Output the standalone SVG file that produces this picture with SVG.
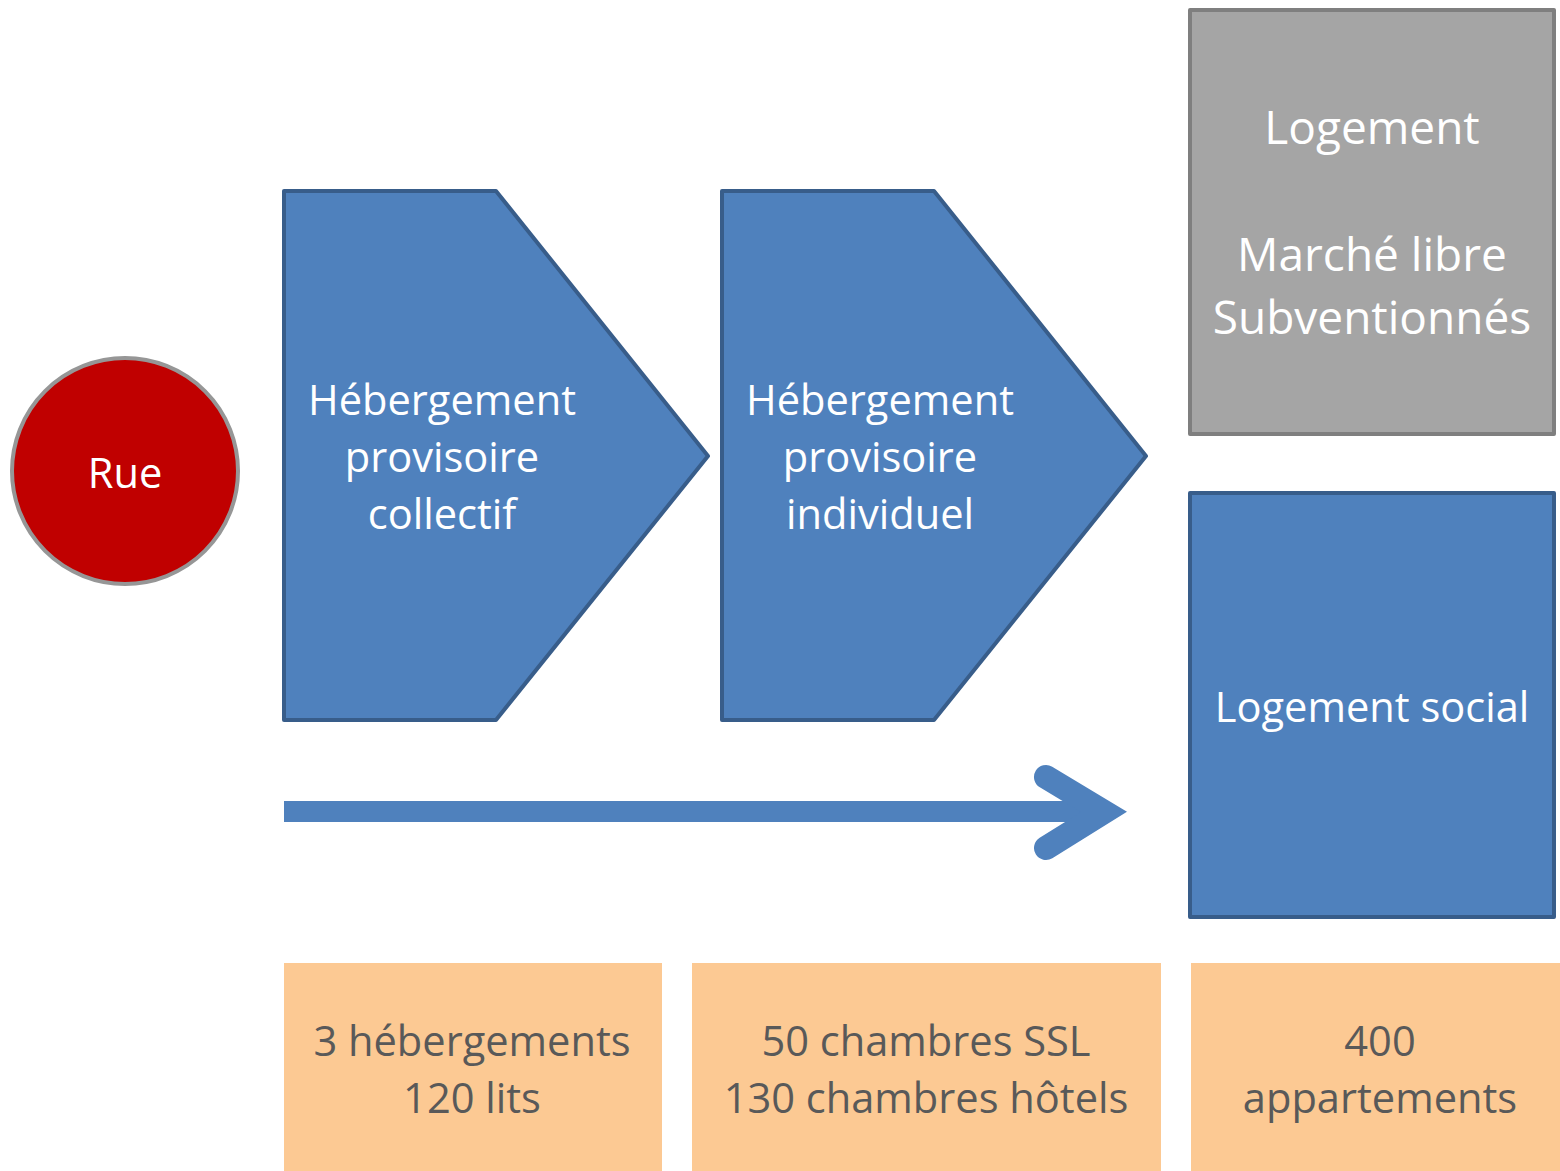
<svg xmlns="http://www.w3.org/2000/svg" width="1560" height="1171" viewBox="0 0 1560 1171">
<style>
.t{font-family:"Open Sans","Liberation Sans",sans-serif;text-anchor:middle;}
.w{fill:#ffffff;font-size:41.6px;}
.big{font-size:46px;}
.g{fill:#595959;font-size:41.6px;}
.blue{fill:#4F81BD;stroke:#385D8A;stroke-width:4;stroke-linejoin:round;}
.gray{fill:#A5A5A5;stroke:#7F7F7F;stroke-width:4;stroke-linejoin:round;}
.org{fill:#FCC993;}
</style>
<rect width="1560" height="1171" fill="#ffffff"/>
<g id="rue">
<circle cx="125" cy="471" r="113" fill="#C00000" stroke="#969696" stroke-width="4"/>
<text class="t w" x="125" y="488">Rue</text>
</g>
<g id="collectif">
<polygon class="blue" points="284,191 496,191 708,456 496,720 284,720"/>
<text class="t w" x="442" y="415">Hébergement</text>
<text class="t w" x="442" y="472">provisoire</text>
<text class="t w" x="442" y="529">collectif</text>
</g>
<g id="individuel">
<polygon class="blue" points="722,191 934,191 1146,456 934,720 722,720"/>
<text class="t w" x="880" y="415">Hébergement</text>
<text class="t w" x="880" y="472">provisoire</text>
<text class="t w" x="880" y="529">individuel</text>
</g>
<g id="logement">
<rect class="gray" x="1190" y="10" width="364" height="424"/>
<text class="t w big" x="1372" y="144">Logement</text>
<text class="t w big" x="1372" y="271">Marché libre</text>
<text class="t w big" x="1372" y="334">Subventionnés</text>
</g>
<g id="social">
<rect class="blue" x="1190" y="493" width="364" height="424"/>
<text class="t w" x="1372" y="722">Logement social</text>
</g>
<g id="connectors">
<rect x="284" y="801" width="800" height="21" fill="#4F81BD"/>
<polyline points="1046,777 1104,812 1046,848" fill="none" stroke="#4F81BD" stroke-width="24" stroke-linecap="round" stroke-linejoin="miter"/>
</g>
<g id="stat1">
<rect class="org" x="284" y="963" width="378" height="208"/>
<text class="t g" x="472" y="1056">3 hébergements</text>
<text class="t g" x="472" y="1113">120 lits</text>
</g>
<g id="stat2">
<rect class="org" x="692" y="963" width="469" height="208"/>
<text class="t g" x="926" y="1056">50 chambres SSL</text>
<text class="t g" x="926" y="1113">130 chambres hôtels</text>
</g>
<g id="stat3">
<rect class="org" x="1191" y="963" width="369" height="208"/>
<text class="t g" x="1380" y="1056">400</text>
<text class="t g" x="1380" y="1113">appartements</text>
</g>
</svg>
